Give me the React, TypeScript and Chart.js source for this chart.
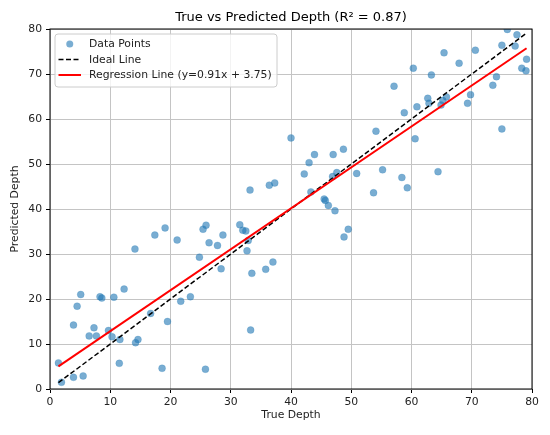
import React, { useEffect, useRef } from "react";
import { Chart, registerables } from "chart.js";

Chart.register(...registerables);

const TITLE = "True vs Predicted Depth (R² = 0.87)";
const X_LABEL = "True Depth";
const Y_LABEL = "Predicted Depth";
const LEGEND_LABELS = ["Data Points", "Ideal Line", "Regression Line (y=0.91x + 3.75)"];

const trueDepth = [
  1.4, 1.9, 3.9, 5.5, 3.9, 4.5, 5.1, 6.5, 7.3, 7.7, 8.3, 8.6, 9.7, 10.3, 10.6, 11.6, 11.5, 12.3, 14.2, 14.6,
  14.1, 16.7, 17.4, 18.6, 19.1, 19.5, 21.1, 21.7, 23.3, 24.8, 25.4, 25.9, 25.8, 26.4, 27.8, 28.4, 28.7, 31.5, 32.0, 32.5,
  32.9, 32.7, 33.5, 33.3, 35.8, 37.0, 33.2, 36.4, 37.3, 40.0, 42.2, 43.0, 43.9, 43.3, 45.5, 45.7, 46.2, 47.3, 47.0, 47.6,
  46.9, 48.7, 48.8, 49.5, 50.9, 53.7, 54.1, 55.2, 57.1, 58.4, 59.3, 58.8, 60.6, 60.9, 60.3, 62.7, 62.9, 63.3, 64.4, 64.9,
  65.2, 65.8, 65.4, 67.9, 69.3, 69.8, 70.6, 73.5, 74.1, 75.0, 75.0, 75.9, 77.2, 77.5, 78.3, 79.0, 79.1,
];
const predictedDepth = [
  5.8, 1.5, 2.6, 2.9, 14.2, 18.4, 21.0, 11.8, 13.6, 11.8, 20.5, 20.2, 13.0, 11.6, 20.4, 11.0, 5.7, 22.2, 10.3, 11.0,
  31.1, 16.8, 34.2, 4.6, 35.8, 15.0, 33.1, 19.5, 20.5, 29.3, 35.5, 36.4, 4.4, 32.5, 31.9, 26.7, 34.2, 36.5, 35.3, 35.1,
  33.0, 30.7, 25.7, 13.1, 26.6, 28.2, 44.2, 45.3, 45.8, 55.8, 47.8, 50.3, 52.1, 43.8, 42.2, 41.9, 40.8, 39.6, 52.1, 48.1,
  47.2, 53.3, 33.8, 35.5, 47.9, 43.6, 57.3, 48.7, 67.3, 47.0, 44.7, 61.4, 55.6, 62.7, 71.3, 64.6, 63.5, 69.8, 48.3, 63.1,
  64.1, 64.9, 74.7, 72.4, 63.5, 65.4, 75.3, 67.5, 69.4, 76.4, 57.8, 79.9, 76.2, 78.7, 71.3, 70.7, 73.3,
];
const idealX = [1.4, 79.1];
const idealY = [1.4, 79.1];
const regX = [1.4, 79.1];
const regY = [5.02, 75.73];
const axisTicks = [0, 10, 20, 30, 40, 50, 60, 70, 80];

const FONT = "'DejaVu Sans', sans-serif";
const SMALL = 10.8;
const POINT_COLOR = "rgba(31,119,180,0.6)";

const overlayPlugin = {
  id: "overlay",
  afterDraw(chart: any) {
    const ctx = chart.ctx;
    const a = chart.chartArea;
    ctx.save();
    // spines
    ctx.strokeStyle = "#000";
    ctx.lineWidth = 1;
    ctx.strokeRect(a.left, a.top, a.right - a.left, a.bottom - a.top);
    // title
    ctx.fillStyle = "#000";
    ctx.textAlign = "center";
    ctx.textBaseline = "middle";
    ctx.font = `13px ${FONT}`;
    ctx.fillText(TITLE, (a.left + a.right) / 2, 18);
    // axis labels
    ctx.font = `${SMALL}px ${FONT}`;
    ctx.fillStyle = "#222";
    ctx.fillText(X_LABEL, (a.left + a.right) / 2, 415);
    ctx.save();
    ctx.translate(15, (a.top + a.bottom) / 2);
    ctx.rotate(-Math.PI / 2);
    ctx.fillText(Y_LABEL, 0, 0);
    ctx.restore();
    // legend
    const bx = a.left + 5, by = a.top + 5, bw = 222, bh = 53, r = 3;
    ctx.beginPath();
    ctx.moveTo(bx + r, by);
    ctx.lineTo(bx + bw - r, by);
    ctx.arcTo(bx + bw, by, bx + bw, by + r, r);
    ctx.lineTo(bx + bw, by + bh - r);
    ctx.arcTo(bx + bw, by + bh, bx + bw - r, by + bh, r);
    ctx.lineTo(bx + r, by + bh);
    ctx.arcTo(bx, by + bh, bx, by + bh - r, r);
    ctx.lineTo(bx, by + r);
    ctx.arcTo(bx, by, bx + r, by, r);
    ctx.closePath();
    ctx.fillStyle = "rgba(255,255,255,0.8)";
    ctx.fill();
    ctx.strokeStyle = "#cccccc";
    ctx.lineWidth = 1;
    ctx.stroke();
    const rows = [by + 10, by + 25.5, by + 41];
    const hx0 = bx + 3.5, hx1 = bx + 26, tx = bx + 34;
    // marker
    ctx.beginPath();
    ctx.arc((hx0 + hx1) / 2, rows[0], 3.5, 0, Math.PI * 2);
    ctx.fillStyle = POINT_COLOR;
    ctx.fill();
    // ideal
    ctx.beginPath();
    ctx.setLineDash([5, 2.5]);
    ctx.moveTo(hx0, rows[1]);
    ctx.lineTo(hx1, rows[1]);
    ctx.strokeStyle = "#000";
    ctx.lineWidth = 1.5;
    ctx.stroke();
    ctx.setLineDash([]);
    // regression
    ctx.beginPath();
    ctx.moveTo(hx0, rows[2]);
    ctx.lineTo(hx1, rows[2]);
    ctx.strokeStyle = "#ff0000";
    ctx.lineWidth = 2;
    ctx.stroke();
    ctx.fillStyle = "#222";
    ctx.textAlign = "left";
    ctx.font = `${SMALL}px ${FONT}`;
    LEGEND_LABELS.forEach((t, i) => ctx.fillText(t, tx, rows[i] + 0.5));
    ctx.restore();
  },
};

export default function App() {
  const ref = useRef<HTMLCanvasElement | null>(null);
  useEffect(() => {
    document.body.style.margin = "0";
    if (!ref.current) return;
    const chart = new Chart(ref.current, {
      type: "scatter",
      data: {
        datasets: [
          {
            label: LEGEND_LABELS[0],
            data: trueDepth.map((x, i) => ({ x, y: predictedDepth[i] })),
            backgroundColor: POINT_COLOR,
            borderColor: "rgba(31,119,180,0.25)",
            borderWidth: 0.8,
            pointRadius: 3.5,
            order: 3,
          },
          {
            label: LEGEND_LABELS[1],
            data: idealX.map((x, i) => ({ x, y: idealY[i] })),
            showLine: true,
            borderColor: "#000",
            borderWidth: 1.5,
            borderDash: [5, 2.5],
            pointRadius: 0,
            order: 2,
          },
          {
            label: LEGEND_LABELS[2],
            data: regX.map((x, i) => ({ x, y: regY[i] })),
            showLine: true,
            borderColor: "#ff0000",
            borderWidth: 2,
            pointRadius: 0,
            order: 1,
          },
        ],
      },
      options: {
        animation: false,
        responsive: false,
        devicePixelRatio: 1,
        layout: { padding: { top: 29, right: 18, left: 0, bottom: 0 } },
        plugins: { legend: { display: false }, title: { display: false }, tooltip: { enabled: false } },
        scales: {
          x: {
            type: "linear",
            min: 0,
            max: 80,
            afterBuildTicks: (s: any) => { s.ticks = axisTicks.map((v) => ({ value: v })); },
            afterFit: (s: any) => { s.height = 46; },
            grid: { color: "#c4c4c4", lineWidth: 1, tickColor: "#000", tickLength: 4 },
            border: { display: false },
            ticks: { color: "#222", font: { family: FONT, size: SMALL }, padding: 3, maxRotation: 0 },
          },
          y: {
            type: "linear",
            min: 0,
            max: 80,
            afterBuildTicks: (s: any) => { s.ticks = axisTicks.map((v) => ({ value: v })); },
            afterFit: (s: any) => { s.width = 50; },
            grid: { color: "#c4c4c4", lineWidth: 1, tickColor: "#000", tickLength: 4 },
            border: { display: false },
            ticks: { color: "#222", font: { family: FONT, size: SMALL }, padding: 4 },
          },
        },
      },
      plugins: [overlayPlugin],
    });
    return () => chart.destroy();
  }, []);
  return (
    <div style={{ position: "absolute", left: 0, top: 0, width: 550, height: 435, background: "#fff" }}>
      <canvas ref={ref} width={550} height={435} style={{ display: "block" }} />
    </div>
  );
}
